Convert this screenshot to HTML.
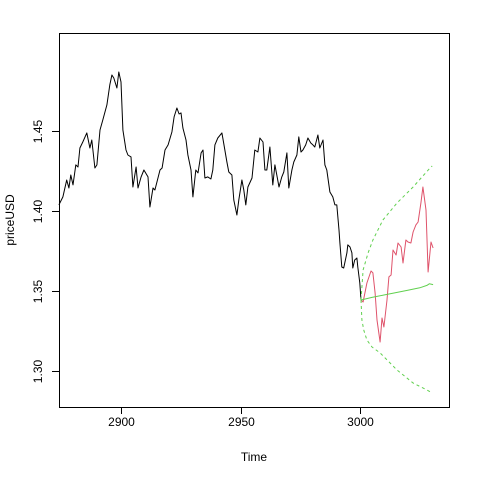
<!DOCTYPE html>
<html><head><meta charset="utf-8"><style>
html,body{margin:0;padding:0;background:#fff}
svg{display:block;font-family:"Liberation Sans",Arial,sans-serif}
</style></head><body>
<svg id="chart" width="480" height="480" viewBox="0 0 480 480" xmlns="http://www.w3.org/2000/svg"></svg>
<script>
const histTimes=[2874.0,2875.7,2877.3,2878.2,2879.0,2879.9,2881.1,2882.0,2882.8,2884.0,2885.7,2887.0,2887.8,2889.1,2889.9,2891.2,2892.4,2894.1,2895.3,2896.2,2897.0,2898.3,2899.1,2900.0,2900.8,2902.1,2902.9,2904.2,2905.0,2906.3,2907.1,2908.4,2909.6,2911.3,2912.1,2913.4,2914.2,2916.3,2917.2,2918.4,2919.7,2921.3,2922.2,2923.4,2924.3,2925.1,2925.9,2927.2,2928.0,2929.3,2930.1,2931.3,2932.2,2933.5,2934.3,2935.1,2936.3,2937.6,2938.4,2939.3,2940.5,2942.2,2942.6,2944.3,2945.1,2946.4,2947.2,2948.5,2949.3,2950.6,2951.4,2952.2,2953.1,2954.8,2956.0,2957.3,2958.1,2959.4,2960.2,2961.0,2962.3,2963.5,2964.4,2965.2,2966.1,2967.3,2968.1,2969.4,2970.2,2971.5,2972.3,2973.6,2974.4,2975.3,2976.1,2977.3,2978.2,2979.4,2980.3,2981.1,2982.4,2983.2,2984.5,2985.3,2986.1,2987.4,2988.6,2989.5,2990.3,2991.2,2991.6,2992.4,2993.2,2994.5,2994.9,2995.8,2996.6,2997.0,2997.8,2998.7,2999.1,2999.9,3000.4];
const histPrices=[1.4038,1.4088,1.4194,1.4144,1.4225,1.4163,1.4288,1.4275,1.4394,1.4431,1.4488,1.4394,1.4444,1.4269,1.4288,1.4506,1.4569,1.4663,1.4788,1.485,1.4831,1.4769,1.4869,1.4806,1.4506,1.4381,1.435,1.4338,1.415,1.4275,1.4144,1.4213,1.4256,1.4213,1.4025,1.4144,1.4131,1.4256,1.4269,1.4381,1.4413,1.4494,1.4588,1.4644,1.4606,1.4613,1.4519,1.4444,1.435,1.4256,1.4088,1.4256,1.4238,1.4363,1.4381,1.4206,1.4213,1.42,1.4256,1.4413,1.4456,1.4488,1.4456,1.4306,1.4244,1.4225,1.4069,1.3975,1.4069,1.4194,1.4131,1.4038,1.415,1.4206,1.4381,1.4369,1.4456,1.4431,1.4256,1.4256,1.44,1.4163,1.4288,1.4225,1.415,1.4213,1.4244,1.4363,1.4144,1.4256,1.4306,1.435,1.4463,1.4369,1.4381,1.4413,1.4456,1.4425,1.4413,1.44,1.4475,1.4394,1.4444,1.4288,1.4256,1.4119,1.4088,1.4038,1.4038,1.3881,1.38,1.365,1.3644,1.3738,1.3788,1.3775,1.3738,1.3644,1.3694,1.3706,1.365,1.355,1.3444];
const actualTimes=[3000.4,3001.3,3002.9,3004.6,3005.4,3006.3,3007.1,3008.4,3009.2,3010.0,3011.3,3012.1,3013.0,3013.8,3015.1,3015.9,3017.2,3018.0,3019.2,3020.1,3021.3,3022.2,3023.4,3024.3,3025.5,3026.3,3027.6,3028.5,3029.7,3030.6];
const actualPrices=[1.3444,1.3431,1.355,1.3625,1.3613,1.3488,1.3319,1.3181,1.3331,1.3275,1.3444,1.3588,1.36,1.3756,1.3725,1.38,1.3775,1.3675,1.3819,1.3806,1.38,1.3869,1.3913,1.3931,1.405,1.415,1.4006,1.3619,1.3806,1.3769];
const fcTimes=[3000.4,3005,3010,3015,3020,3025,3028,3029,3030.6];
const fcPrices=[1.3444,1.346,1.3475,1.349,1.3505,1.352,1.3535,1.3545,1.354];
const upTimes=[3000.4,3001.3,3003.4,3005.4,3009.6,3015.5,3022.2,3029.3,3030.2];
const upPrices=[1.3444,1.3631,1.3738,1.3819,1.3944,1.405,1.415,1.4269,1.4281];
const loTimes=[3000.4,3000.8,3001.6,3002.9,3005.0,3008.4,3015.5,3022.2,3028.0,3030.2];
const loPrices=[1.3444,1.3319,1.3255,1.3194,1.3150,1.3113,1.3006,1.2925,1.2881,1.2863];
const xTicks=[2900,2950,3000];
const yTicks=[1.30,1.35,1.40,1.45];
const yTickLabels=["1.30","1.35","1.40","1.45"];

const NS="http://www.w3.org/2000/svg";
const svg=document.getElementById('chart');
const L=59,R=449,T=33,B=407;
function xs(t){return 121+(t-2900)*2.39;}
function ys(v){return 371-(v-1.30)*1600;}
function mk(tag,attrs,parent){const e=document.createElementNS(NS,tag);for(const k in attrs)e.setAttribute(k,attrs[k]);(parent||svg).appendChild(e);return e;}
function line(ts,vs,color,dash,name){
  const d=ts.map((t,i)=>(i?'L':'M')+xs(t).toFixed(1)+','+ys(vs[i]).toFixed(1)).join(' ');
  const p=mk('path',{d:d,fill:'none',stroke:color,'stroke-width':1,'stroke-dasharray':dash||'none','stroke-linejoin':'round'});
  
  
}
const box=mk('rect',{x:L+0.5,y:T+0.5,width:R-L,height:B-T,fill:'none',stroke:'#000','stroke-width':1});


xTicks.forEach(t=>{
  const x=Math.round(xs(t))+0.5;
  const tk=mk('line',{x1:x,y1:B,x2:x,y2:B+7,stroke:'#000'});
  
  
  const lb=mk('text',{x:x,y:B+19,'font-size':12,'text-anchor':'middle'});
  lb.textContent=String(t);
  
  
});
yTicks.forEach((v,i)=>{
  const y=Math.round(ys(v))+0.5;
  const tk=mk('line',{x1:L-7,y1:y,x2:L,y2:y,stroke:'#000'});
  
  
  const lb=mk('text',{x:42,y:y,'font-size':12,'text-anchor':'middle',transform:'rotate(-90 42 '+y+')'});
  lb.textContent=yTickLabels[i];
  
  
});
const xt=mk('text',{x:254,y:461,'font-size':12,'text-anchor':'middle'});
xt.textContent='Time';


const yt=mk('text',{x:14,y:220,'font-size':12,'text-anchor':'middle',transform:'rotate(-90 14 220)'});
yt.textContent='priceUSD';


line(histTimes,histPrices,'#000',null,'history-line');
line(actualTimes,actualPrices,'#DF536B',null,'actual-line');
line(upTimes,upPrices,'#61D04F','3,3','upper-bound-line');
line(loTimes,loPrices,'#61D04F','3,3','lower-bound-line');
line(fcTimes,fcPrices,'#61D04F',null,'forecast-line');
</script>
</body></html>
